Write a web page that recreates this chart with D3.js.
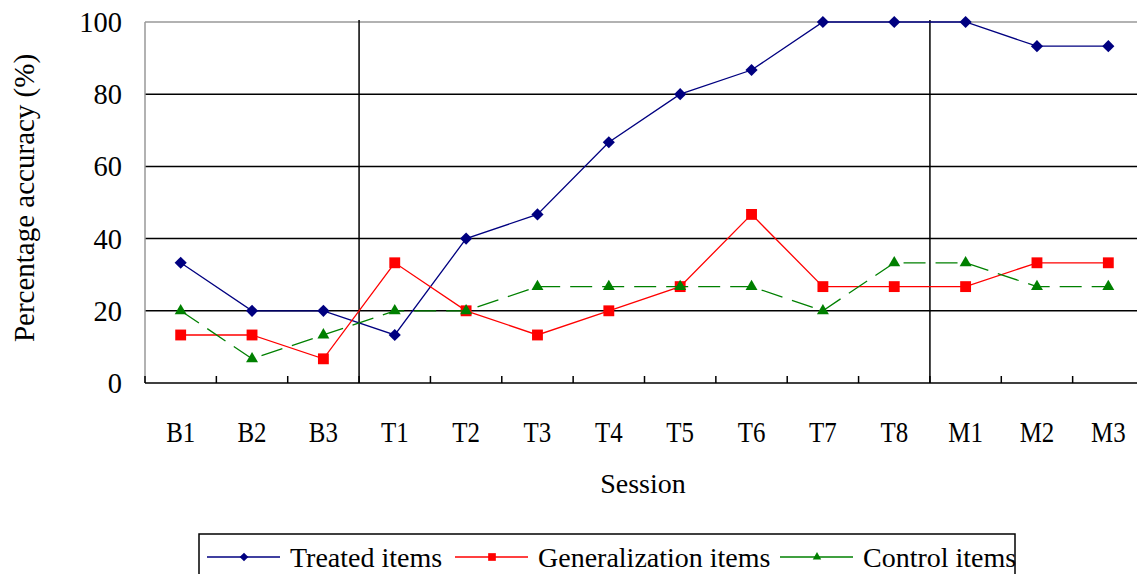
<!DOCTYPE html>
<html>
<head>
<meta charset="utf-8">
<script src="https://cdn.jsdelivr.net/npm/d3@7"></script>
<style>
  body { margin: 0; background: #fff; }
</style>
</head>
<body>
<svg width="1137" height="574"></svg>
<script>
// sessions and scores (percentage of 15 items)
const sessions = ["B1","B2","B3","T1","T2","T3","T4","T5","T6","T7","T8","M1","M2","M3"];
const treated = [33.3,20,20,13.3,40,46.7,66.7,80,86.7,100,100,100,93.3,93.3];
const generalization = [13.3,13.3,6.7,33.3,20,13.3,20,26.7,46.7,26.7,26.7,26.7,33.3,33.3];
const control = [20,6.7,13.3,20,20,26.7,26.7,26.7,26.7,20,33.3,33.3,26.7,26.7];
const yTicks = [0,20,40,60,80,100];
const phaseBreaks = ["T1","M1"];   // vertical lines before these sessions
const seriesNames = ["Treated items","Generalization items","Control items"];

const FONT = "'Liberation Serif', 'Times New Roman', 'DejaVu Serif', serif";
const svg = d3.select('svg');
const plotLeft = 145, plotRight = 1144, plotTop = 22, plotBottom = 383;

const x = d3.scaleBand().domain(sessions).range([plotLeft, plotRight]);
const y = d3.scaleLinear().domain([0,100]).range([plotBottom, plotTop]);

// text, optionally squeezed to look like the narrow original font
function label(g, tx, ty, str, size, anchor, sx) {
  return g.append('g')
    .attr('transform', `translate(${tx},${ty}) scale(${sx || 0.86},1)`)
    .append('text')
    .attr('text-anchor', anchor || 'middle')
    .attr('font-family', FONT)
    .attr('font-size', size)
    .attr('fill', '#000')
    .text(str);
}

// grid lines
svg.selectAll('.grid')
  .data(yTicks.filter(d => d > 0 && d < 100))
  .enter().append('line')
  .attr('x1', plotLeft).attr('x2', plotRight)
  .attr('y1', d => y(d)).attr('y2', d => y(d))
  .attr('stroke', '#000').attr('stroke-width', 1.5);

// top and left border (gray)
svg.append('line').attr('x1', plotLeft).attr('x2', plotRight).attr('y1', y(100)).attr('y2', y(100))
  .attr('stroke', '#999').attr('stroke-width', 1.5);
svg.append('line').attr('x1', plotLeft).attr('x2', plotLeft).attr('y1', y(100)).attr('y2', plotBottom)
  .attr('stroke', '#999').attr('stroke-width', 1.5);

// phase lines
svg.selectAll('.phase')
  .data(phaseBreaks)
  .enter().append('line')
  .attr('x1', d => x(d)).attr('x2', d => x(d))
  .attr('y1', plotTop - 2).attr('y2', plotBottom)
  .attr('stroke', '#000').attr('stroke-width', 1.5);

// x axis line with inner ticks
svg.append('line').attr('x1', plotLeft).attr('x2', plotRight).attr('y1', plotBottom).attr('y2', plotBottom)
  .attr('stroke', '#000').attr('stroke-width', 1.5);
svg.selectAll('.xtick')
  .data(sessions)
  .enter().append('line')
  .attr('x1', d => x(d)).attr('x2', d => x(d))
  .attr('y1', plotBottom - 7).attr('y2', plotBottom)
  .attr('stroke', '#000').attr('stroke-width', 1.5);

// y tick labels
yTicks.forEach(t => label(svg, 122, y(t) + 10, String(t), 30, 'end', 0.95));

// x labels
sessions.forEach(s => label(svg, x(s) + x.bandwidth()/2, 442, s, 29));

// axis titles
svg.append('g').attr('transform', 'translate(34,198) rotate(-90)')
  .append('text')
  .attr('text-anchor', 'middle')
  .attr('font-family', FONT)
  .attr('font-size', 29)
  .text('Percentage accuracy (%)');
label(svg, 643, 493, 'Session', 28, 'middle', 1);

const cx = d => x(d) + x.bandwidth()/2;

// diamond = square turned 45 degrees
const series = [
  {name: seriesNames[0], values: treated, color: '#000080', marker: d3.symbolSquare, rot: 45, size: 74, dash: null},
  {name: seriesNames[1], values: generalization, color: '#ff0000', marker: d3.symbolSquare, rot: 0, size: 118, dash: null},
  {name: seriesNames[2], values: control, color: '#008000', marker: d3.symbolTriangle, rot: 0, size: 62, dash: '22,10'}
];

const line = d3.line().x((d,i) => cx(sessions[i])).y(d => y(d));

series.forEach(s => {
  svg.append('path')
    .attr('d', line(s.values))
    .attr('fill', 'none')
    .attr('stroke', s.color)
    .attr('stroke-width', 1.3)
    .attr('stroke-dasharray', s.dash);
  svg.selectAll(null)
    .data(s.values)
    .enter().append('path')
    .attr('transform', (d,i) => `translate(${cx(sessions[i])},${y(d)}) rotate(${s.rot})`)
    .attr('d', d3.symbol().type(s.marker).size(s.size))
    .attr('fill', s.color);
});

// legend
const lg = svg.append('g');
lg.append('rect').attr('x', 199).attr('y', 534).attr('width', 816).attr('height', 60)
  .attr('fill', '#fff').attr('stroke', '#000').attr('stroke-width', 1.5);
const legendX = [207, 455, 780];
series.forEach((s, i) => {
  const x0 = legendX[i];
  lg.append('line').attr('x1', x0).attr('x2', x0 + 73).attr('y1', 557).attr('y2', 557)
    .attr('stroke', s.color).attr('stroke-width', 1.5);
  lg.append('path')
    .attr('transform', `translate(${x0 + 37},557) rotate(${s.rot})`)
    .attr('d', d3.symbol().type(s.marker).size(s.size * 0.5))
    .attr('fill', s.color);
  label(lg, x0 + 83, 567, s.name, 28, 'start', 1);
});
</script>
</body>
</html>
